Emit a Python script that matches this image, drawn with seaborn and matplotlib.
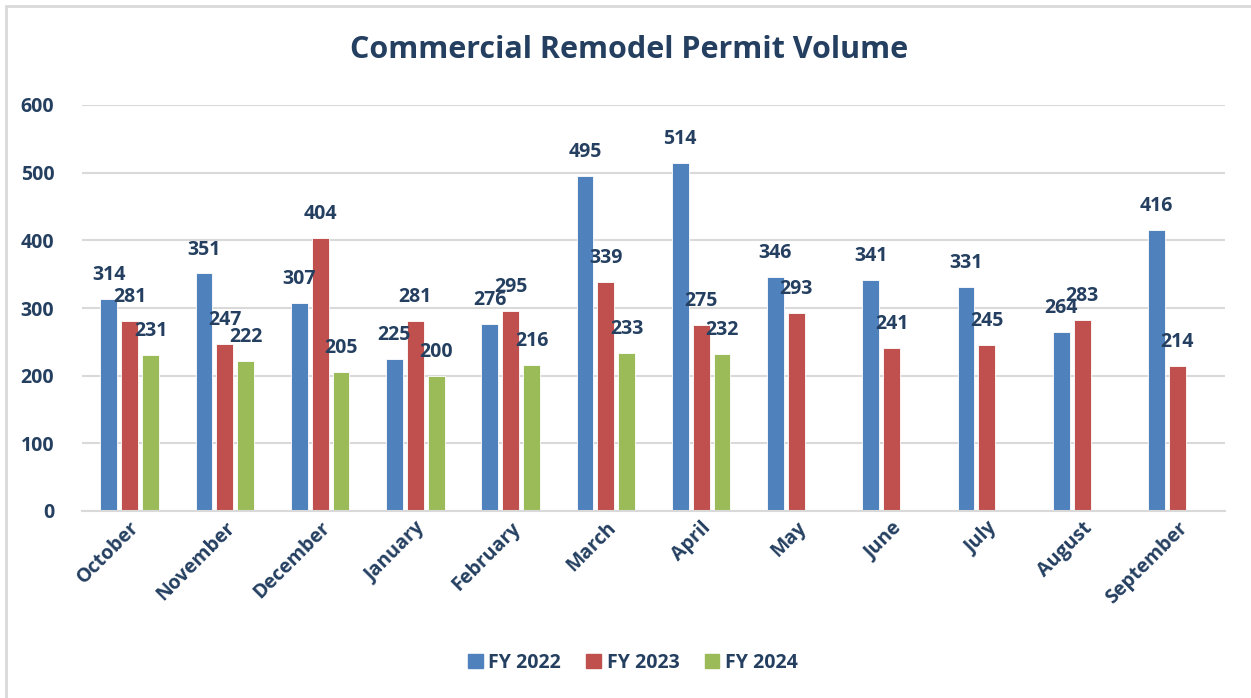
import seaborn as sns
import matplotlib.pyplot as plt
import matplotlib.patches as mpatches
import pandas as pd
import numpy as np


months = ['October', 'November', 'December', 'January', 'February', 'March',
          'April', 'May', 'June', 'July', 'August', 'September']
fy2022 = [314, 351, 307, 225, 276, 495, 514, 346, 341, 331, 264, 416]
fy2023 = [281, 247, 404, 281, 295, 339, 275, 293, 241, 245, 283, 214]
fy2024 = [231, 222, 205, 200, 216, 233, 232, np.nan, np.nan, np.nan, np.nan, np.nan]
years = ['FY 2022', 'FY 2023', 'FY 2024']
colors = ['#4F81BD', '#C0504D', '#9BBB59']

text_col = '#243F60'

# long form table for seaborn
df = pd.DataFrame({'month': months * 3,
                   'year': [years[0]] * 12 + [years[1]] * 12 + [years[2]] * 12,
                   'permits': fy2022 + fy2023 + fy2024})
df = df.dropna()

sns.set_theme(style='white')
plt.rcParams['font.family'] = ['Open Sans', 'DejaVu Sans']
plt.rcParams['font.weight'] = 'bold'

fig = plt.figure(figsize=(12.51, 6.98), dpi=100)
ax = fig.add_axes([82 / 1251, 1 - 511 / 698, (1225 - 82) / 1251, (511 - 105) / 698])

sns.barplot(data=df, x='month', y='permits', hue='year', order=months, hue_order=years,
            palette=colors, width=0.66, gap=0.2, ax=ax, legend=False,
            edgecolor='white', linewidth=0.6, saturation=1)

for cont in ax.containers:
    ax.bar_label(cont, fmt='%d', padding=10, fontsize=14, fontweight='bold', color=text_col)

ax.set_ylim(0, 600)
ax.set_xlim(-0.5, 11.5)
ax.set_yticks(np.arange(0, 601, 100))
ax.yaxis.grid(True, color='#d9d9d9', linewidth=1.5)
ax.set_axisbelow(True)
for s in ['top', 'right', 'left']:
    ax.spines[s].set_visible(False)
ax.spines['bottom'].set_color('#d9d9d9')
ax.spines['bottom'].set_linewidth(1.5)
ax.set_xlabel('')
ax.set_ylabel('')
ax.tick_params(axis='both', length=0, labelsize=14, labelcolor=text_col)
ax.tick_params(axis='y', pad=20)
ax.tick_params(axis='x', pad=5)
for lab in ax.get_xticklabels():
    lab.set_rotation(45)
    lab.set_ha('right')
    lab.set_rotation_mode('anchor')
    lab.set_fontweight('bold')
for lab in ax.get_yticklabels():
    lab.set_fontweight('bold')

fig.text(629 / 1251, 1 - 50 / 698, 'Commercial Remodel Permit Volume', ha='center', va='center',
         fontsize=22, fontweight='bold', color=text_col)

handles = [mpatches.Patch(color=c, label=y) for c, y in zip(colors, years)]
fig.legend(handles=handles, loc='center', bbox_to_anchor=(633 / 1251, 1 - 663 / 698), ncol=3,
           frameon=False, handlelength=0.75, handleheight=0.75, handletextpad=0.3, columnspacing=1.3,
           prop={'size': 14, 'weight': 'bold'}, labelcolor=text_col)

# light frame around the chart area (cropped on the right and bottom)
fig.patches.append(mpatches.Rectangle((6 / 1251, -0.2), 1.5, 1.2 - 6 / 698,
                                      transform=fig.transFigure, fill=False,
                                      edgecolor='#d9d9d9', linewidth=2))

fig.savefig('out.png', dpi=100)
